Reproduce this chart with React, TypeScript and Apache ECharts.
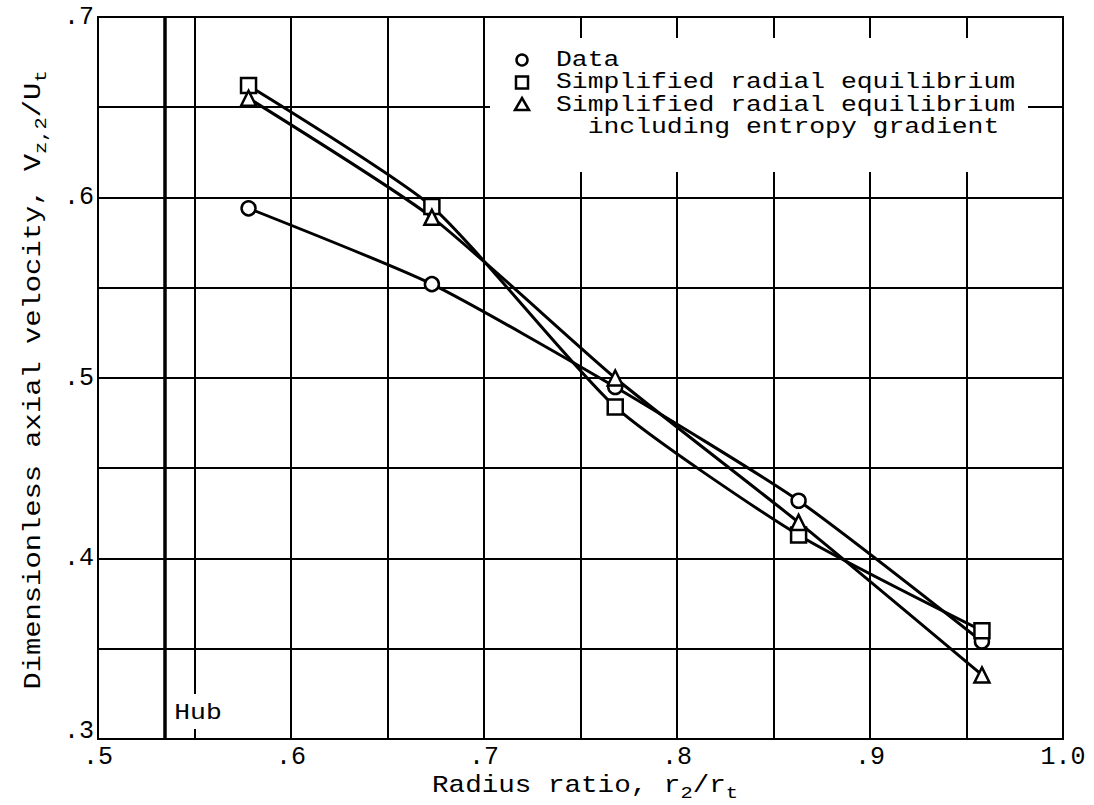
import React, { useEffect, useRef } from "react";
import * as echarts from "echarts";

// Radius ratio stations, r2/rt
const radiusRatio = [0.578, 0.673, 0.768, 0.863, 0.958];
// Dimensionless axial velocity Vz,2/Ut
const measured = [0.594, 0.552, 0.495, 0.432, 0.354];
const simplifiedRE = [0.662, 0.595, 0.484, 0.413, 0.36];
const simplifiedREEntropy = [0.655, 0.589, 0.5, 0.42, 0.3355];

const hubRatio = 0.5345;

const seriesNames = [
  "Data",
  "Simplified radial equilibrium",
  "Simplified radial equilibrium",
];
const entropyNote = "  including entropy gradient";

const FONT = "'Liberation Mono', 'DejaVu Sans Mono', monospace";
const FS = 25;
// the typewriter lettering is wider than a standard monospace face
const WIDEN = 1.2;

const tickLabel = (v: number) => {
  const t = Math.round(v * 100);
  if (t % 10 !== 0) return "";
  return t === 100 ? "1.0" : "." + t / 10;
};

// the bottom value label sits just above the corner
const yTickLabel = (v: number) => {
  const s = tickLabel(v);
  return Math.round(v * 100) === 30 ? "{lo|" + s + "}" : s;
};

const pairs = (ys: number[]) => radiusRatio.map((x, i) => [x, ys[i]]);

export default function App() {
  const ref = useRef<HTMLDivElement>(null);

  useEffect(() => {
    if (!ref.current) return;
    const chart = echarts.init(ref.current, undefined, { renderer: "svg" });

    const markerStyle = {
      color: "#fff",
      borderColor: "#000",
      borderWidth: 2.5,
    };
    const lineSeries = (name: string, ys: number[], symbol: string, size: number) => ({
      name,
      type: "line",
      data: pairs(ys),
      smooth: 0.2,
      symbol,
      symbolSize: size,
      showAllSymbol: true,
      lineStyle: { color: "#000", width: 3 },
      itemStyle: markerStyle,
      z: 3,
    });

    const sub = {
      fontFamily: FONT,
      fontSize: 17,
      lineHeight: 17,
      verticalAlign: "bottom",
      color: "#000",
    };
    const norm = (size: number) => ({
      fontFamily: FONT,
      fontSize: size,
      lineHeight: 32,
      verticalAlign: "middle",
      color: "#000",
    });

    const legendX = 522;
    const textX = 556;
    const rowGap = 22.5;
    const firstRowY = 60;
    const rowY = [0, 1, 2, 3].map((i) => firstRowY + i * rowGap);

    chart.setOption({
      animation: false,
      backgroundColor: "#fff",
      grid: {
        left: 98,
        right: 31,
        top: 17,
        bottom: 66,
        show: true,
        borderColor: "#000",
        borderWidth: 2,
        backgroundColor: "transparent",
      },
      xAxis: {
        type: "value",
        min: 0.5,
        max: 1.0,
        interval: 0.05,
        axisLine: { show: true, lineStyle: { color: "#000", width: 2 } },
        axisTick: { show: false },
        splitLine: { show: true, lineStyle: { color: "#000", width: 2 } },
        axisLabel: {
          formatter: tickLabel,
          fontFamily: FONT,
          fontSize: FS,
          lineHeight: 18,
          color: "#000",
          margin: 9,
          showMinLabel: true,
          showMaxLabel: true,
        },
      },
      yAxis: {
        type: "value",
        min: 0.3,
        max: 0.7,
        interval: 0.05,
        axisLine: { show: true, lineStyle: { color: "#000", width: 2 } },
        axisTick: { show: false },
        splitLine: { show: true, lineStyle: { color: "#000", width: 2 } },
        axisLabel: {
          formatter: yTickLabel,
          fontFamily: FONT,
          fontSize: FS,
          lineHeight: 18,
          color: "#000",
          margin: 4,
          showMinLabel: true,
          showMaxLabel: true,
          rich: {
            lo: {
              fontFamily: FONT,
              fontSize: FS,
              lineHeight: 18,
              color: "#000",
              padding: [0, 0, 16, 0],
            },
          },
        },
      },
      series: [
        {
          ...lineSeries(seriesNames[0], measured, "circle", 14),
          markLine: {
            silent: true,
            symbol: "none",
            precision: 4,
            label: { show: false },
            lineStyle: { color: "#000", width: 3.5, type: "solid" },
            data: [{ xAxis: hubRatio }],
            z: 2,
          },
        },
        lineSeries(seriesNames[1], simplifiedRE, "rect", 15),
        lineSeries(seriesNames[2], simplifiedREEntropy, "triangle", 15),
      ],
      graphic: [
        // clear the grid behind the key
        {
          type: "rect",
          z: 1,
          shape: { x: 490, y: 38, width: 538, height: 134 },
          style: { fill: "#fff" },
        },
        // clear the grid behind the hub label
        {
          type: "rect",
          z: 1,
          shape: { x: 178, y: 694, width: 42, height: 35 },
          style: { fill: "#fff" },
        },
        {
          type: "text",
          z: 100,
          x: 198,
          y: 713,
          scaleX: WIDEN,
          style: {
            text: "Hub",
            fontFamily: FONT,
            fontSize: 22,
            fill: "#000",
            align: "center",
            verticalAlign: "middle",
          },
        },
        // key symbols
        {
          type: "circle",
          z: 100,
          shape: { cx: legendX, cy: rowY[0], r: 5.5 },
          style: { fill: "#fff", stroke: "#000", lineWidth: 2.5 },
        },
        {
          type: "rect",
          z: 100,
          shape: { x: legendX - 6, y: rowY[1] - 6, width: 12, height: 12 },
          style: { fill: "#fff", stroke: "#000", lineWidth: 2.5 },
        },
        {
          type: "polygon",
          z: 100,
          shape: {
            points: [
              [legendX, rowY[2] - 7],
              [legendX + 7, rowY[2] + 5],
              [legendX - 7, rowY[2] + 5],
            ],
          },
          style: { fill: "#fff", stroke: "#000", lineWidth: 2.5 },
        },
        // key text, one block
        {
          type: "text",
          z: 100,
          x: textX,
          y: firstRowY - rowGap / 2,
          scaleX: WIDEN,
          style: {
            text: [seriesNames[0], seriesNames[1], seriesNames[2], entropyNote].join("\n"),
            fontFamily: FONT,
            fontSize: 22,
            lineHeight: rowGap,
            fill: "#000",
            align: "left",
            verticalAlign: "top",
          },
        },
        // axis titles
        {
          type: "text",
          z: 100,
          x: 585,
          y: 786,
          scaleX: WIDEN,
          style: {
            text: "{n|Radius ratio, r}{s|2}{n|/r}{s|t}",
            align: "center",
            verticalAlign: "middle",
            rich: { n: norm(23), s: sub },
          },
        },
        {
          type: "text",
          z: 100,
          x: 34,
          y: 380,
          rotation: Math.PI / 2,
          scaleX: WIDEN,
          style: {
            text: "{n|Dimensionless axial velocity, V}{s|z,2}{n|/U}{s|t}",
            align: "center",
            verticalAlign: "middle",
            rich: { n: norm(24), s: sub },
          },
        },
      ],
    });

    return () => chart.dispose();
  }, []);

  return (
    <div
      ref={ref}
      style={{ position: "fixed", left: 0, top: 0, width: 1094, height: 805, background: "#fff" }}
    />
  );
}
